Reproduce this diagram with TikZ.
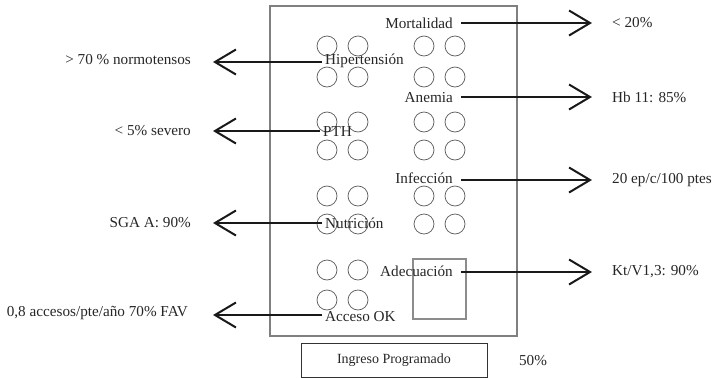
\documentclass[tikz,border=0pt]{standalone}
\usepackage{fontspec}
\setmainfont{Liberation Serif}
\usetikzlibrary{arrows.meta}
\begin{document}
\begin{tikzpicture}[x=1pt,y=-1pt,
  txt/.style={font=\fontsize{15.2}{17}\selectfont, inner sep=3pt, text=black!85},
  dot/.style={draw=black!65, line width=0.7pt},
  conn/.style={draw=black!90, line width=2pt, -{Straight Barb[length=21pt,width=25pt,line width=2pt]}},
  frame/.style={draw=black!50, line width=2.2pt},
  adbox/.style={draw=black!45, line width=1.2pt},
  ingbox/.style={draw=black!80, line width=0.8pt}]
\useasboundingbox (0,0) rectangle (716,378);
% main frame
\draw[frame] (270,6) rectangle (517,336);
% circles
\foreach \y in {46,77,122,150,196,224,270,300}{
  \draw[dot] (327,\y) circle (10);
  \draw[dot] (358,\y) circle (10);
}
\foreach \y in {46,77,122,150,196,224}{
  \draw[dot] (424,\y) circle (10);
  \draw[dot] (455,\y) circle (10);
}
% Adecuacion rectangle
\draw[adbox] (413,259) rectangle (466,319);
% inner labels
\node[txt, anchor=east] (mort) at (456,23) {Mortalidad};
\node[txt, anchor=east] (anem) at (456,98) {Anemia};
\node[txt, anchor=east] (infe) at (456,178) {Infección};
\node[txt, anchor=east] (adec) at (456,271) {Adecuación};
\node[txt, anchor=west] (hipe) at (322,61) {Hipertensión};
\node[txt, anchor=west] (pth) at (320,132) {PTH};
\node[txt, anchor=west] (nutr) at (322,223) {Nutrición};
\node[txt, anchor=west] (acce) at (322,317) {Acceso OK};
% outer values
\node[txt, anchor=west] (vmort) at (609,23) {< 20\%};
\node[txt, anchor=west] (vanem) at (609,97) {Hb 11: 85\%};
\node[txt, anchor=west] (vinfe) at (609,180) {20 ep/c/100 ptes};
\node[txt, anchor=west] (vadec) at (609,272) {Kt/V1,3: 90\%};
\node[txt, anchor=east] (vhipe) at (194,60) {> 70 \% normotensos};
\node[txt, anchor=east] (vpth) at (194,131) {< 5\% severo};
\node[txt, anchor=east] (vnutr) at (194,223) {SGA A: 90\%};
\node[txt, anchor=east] (vacce) at (191,313) {0,8 accesos/pte/año 70\% FAV};
% arrow tips
\coordinate (tmort) at (592,23);
\coordinate (tanem) at (592,97);
\coordinate (tinfe) at (592,180);
\coordinate (tadec) at (592,272);
\coordinate (thipe) at (213,62);
\coordinate (tpth) at (213,131);
\coordinate (tnutr) at (213,223);
\coordinate (tacce) at (213,315);
% connectors
\draw[conn, shorten <=5pt] (mort.east |- tmort) -- (tmort);
\draw[conn, shorten <=5pt] (anem.east |- tanem) -- (tanem);
\draw[conn, shorten <=5pt] (infe.east |- tinfe) -- (tinfe);
\draw[conn, shorten <=5pt] (adec.east |- tadec) -- (tadec);
\draw[conn] (hipe.west |- thipe) -- (thipe);
\draw[conn] (pth.west |- tpth) -- (tpth);
\draw[conn] (nutr.west |- tnutr) -- (tnutr);
\draw[conn] (acce.west |- tacce) -- (tacce);
% bottom box
\node[ingbox, txt, font=\fontsize{14}{16}\selectfont, minimum width=186pt, minimum height=34pt] (ing) at (394,360) {Ingreso Programado};
\node[txt] (pct) at (533,361) {50\%};
\end{tikzpicture}
\end{document}
